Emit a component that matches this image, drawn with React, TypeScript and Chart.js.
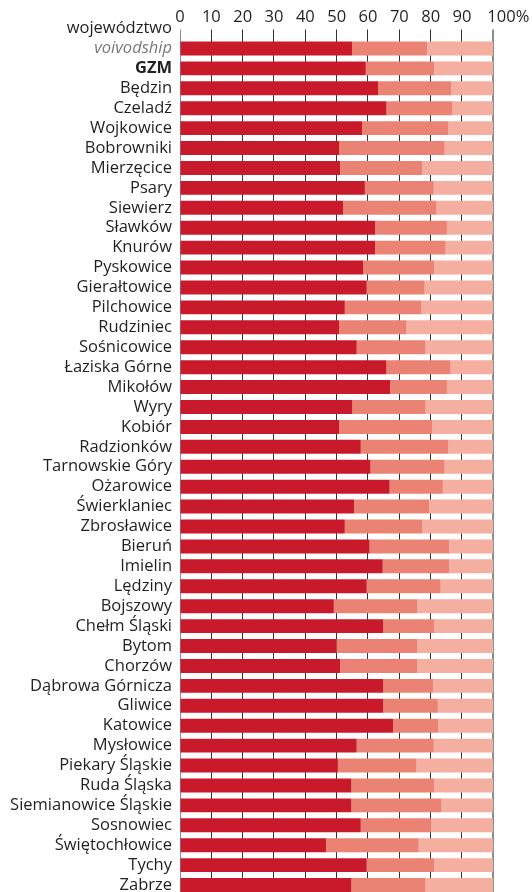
import React, { useEffect, useRef } from "react";
import { Chart, registerables } from "chart.js";

Chart.register(...registerables);

const headerLabel = "województwo";

const categories = [
  "voivodship", "GZM", "Będzin", "Czeladź", "Wojkowice", "Bobrowniki", "Mierzęcice",
  "Psary", "Siewierz", "Sławków", "Knurów", "Pyskowice", "Gierałtowice", "Pilchowice",
  "Rudziniec", "Sośnicowice", "Łaziska Górne", "Mikołów", "Wyry", "Kobiór", "Radzionków",
  "Tarnowskie Góry", "Ożarowice", "Świerklaniec", "Zbrosławice", "Bieruń", "Imielin",
  "Lędziny", "Bojszowy", "Chełm Śląski", "Bytom", "Chorzów", "Dąbrowa Górnicza", "Gliwice",
  "Katowice", "Mysłowice", "Piekary Śląskie", "Ruda Śląska", "Siemianowice Śląskie",
  "Sosnowiec", "Świętochłowice", "Tychy", "Zabrze",
];

const share1 = [
  54.9, 59.3, 63.2, 65.9, 58.1, 50.8, 51.1,
  59.0, 52.1, 62.3, 62.3, 58.5, 59.6, 52.6,
  50.8, 56.4, 65.9, 67.1, 55.0, 50.8, 57.7,
  60.8, 66.9, 55.6, 52.6, 60.5, 64.7,
  59.6, 49.1, 64.9, 49.9, 51.1, 64.9, 64.9,
  68.0, 56.4, 50.4, 54.7, 54.7,
  57.7, 46.6, 59.6, 54.7,
];

const share2 = [
  24.0, 21.8, 23.4, 21.1, 27.6, 33.7, 26.3,
  22.0, 29.8, 22.9, 22.5, 22.7, 18.5, 24.5,
  21.5, 22.0, 20.5, 18.1, 23.4, 29.8, 28.0,
  23.7, 17.0, 24.0, 24.8, 25.5, 21.3,
  23.6, 26.7, 16.3, 25.9, 24.7, 16.0, 17.4,
  14.4, 24.6, 25.1, 26.5, 28.8,
  22.4, 29.6, 21.6, 23.7,
];

const share3 = [
  21.1, 18.9, 13.4, 13.0, 14.3, 15.5, 22.6,
  19.0, 18.1, 14.8, 15.2, 18.8, 21.9, 22.9,
  27.7, 21.6, 13.6, 14.8, 21.6, 19.4, 14.3,
  15.5, 16.1, 20.4, 22.6, 14.0, 14.0,
  16.8, 24.2, 18.8, 24.2, 24.2, 19.1, 17.7,
  17.6, 19.0, 24.5, 18.8, 16.5,
  19.9, 23.8, 18.8, 21.6,
];

const xTickLabels = ["0", "10", "20", "30", "40", "50", "60", "70", "80", "90", "100%"];

const FONT = "'Open Sans', sans-serif";
const FONT_SIZE = 16.5;
const TEXT = "#231F20";
const COLORS = ["#C81A2B", "#EB8375", "#F4AFA0"];

const headerPlugin = {
  id: "headerLabel",
  afterDraw(chart: any) {
    const y = chart.scales.y;
    const ctx = chart.ctx;
    const p0 = y.getPixelForTick(0);
    const p1 = y.getPixelForTick(1);
    const yy = p0 - (p1 - p0);
    ctx.save();
    ctx.font = `${FONT_SIZE}px ${FONT}`;
    ctx.fillStyle = TEXT;
    ctx.textAlign = "right";
    ctx.textBaseline = "middle";
    ctx.fillText(headerLabel, chart.chartArea.left - 8, yy);
    ctx.restore();
  },
};

export default function App() {
  const ref = useRef<HTMLCanvasElement | null>(null);

  useEffect(() => {
    if (!ref.current) return;
    const chart = new Chart(ref.current, {
      type: "bar",
      data: {
        labels: categories,
        datasets: [
          { label: "1", data: share1, backgroundColor: COLORS[0] },
          { label: "2", data: share2, backgroundColor: COLORS[1] },
          { label: "3", data: share3, backgroundColor: COLORS[2] },
        ].map((d) => ({ ...d, borderWidth: 0, barPercentage: 0.7, categoryPercentage: 1 })),
      },
      options: {
        indexAxis: "y",
        responsive: false,
        animation: false,
        layout: { padding: { left: 0, right: 38.7, top: 0, bottom: 0 } },
        plugins: { legend: { display: false }, tooltip: { enabled: false } },
        scales: {
          x: {
            position: "top",
            stacked: true,
            min: 0,
            max: 100,
            afterFit: (s: any) => {
              s.height = 38.5;
            },
            border: { display: false },
            grid: {
              color: (c: any) =>
                c.tick && (c.tick.value === 0 || c.tick.value === 100) ? "#8c8c8c" : "#333333",
              lineWidth: (c: any) => (c.tick && c.tick.value === 100 ? 2 : 1),
              tickLength: 9,
              drawTicks: true,
            },
            ticks: {
              stepSize: 10,
              padding: 2,
              autoSkip: false,
              maxRotation: 0,
              color: TEXT,
              font: { family: FONT, size: FONT_SIZE },
              callback: (_v: any, i: number) => {
                const l = xTickLabels[i];
                return i === xTickLabels.length - 1 ? "       " + l : l;
              },
            },
          },
          y: {
            stacked: true,
            afterFit: (s: any) => {
              s.width = 180;
              s.paddingTop = 0;
              s.paddingBottom = 0;
            },
            border: { display: false },
            grid: { display: false, drawTicks: false },
            ticks: {
              autoSkip: false,
              padding: 8,
              color: (c: any) => (c.index === 0 ? "#77787B" : TEXT),
              font: (c: any) => ({
                family: FONT,
                size: FONT_SIZE,
                style: c.index === 0 ? "italic" : "normal",
                weight: c.index === 1 ? "bold" : "normal",
              }),
            },
          },
        },
      },
      plugins: [headerPlugin],
    } as any);
    return () => chart.destroy();
  }, []);

  return (
    <div
      style={{
        position: "fixed",
        left: 0,
        top: 0,
        width: 532,
        height: 892,
        overflow: "hidden",
        background: "#fff",
      }}
    >
      <canvas ref={ref} width={532} height={895} style={{ display: "block" }} />
    </div>
  );
}
